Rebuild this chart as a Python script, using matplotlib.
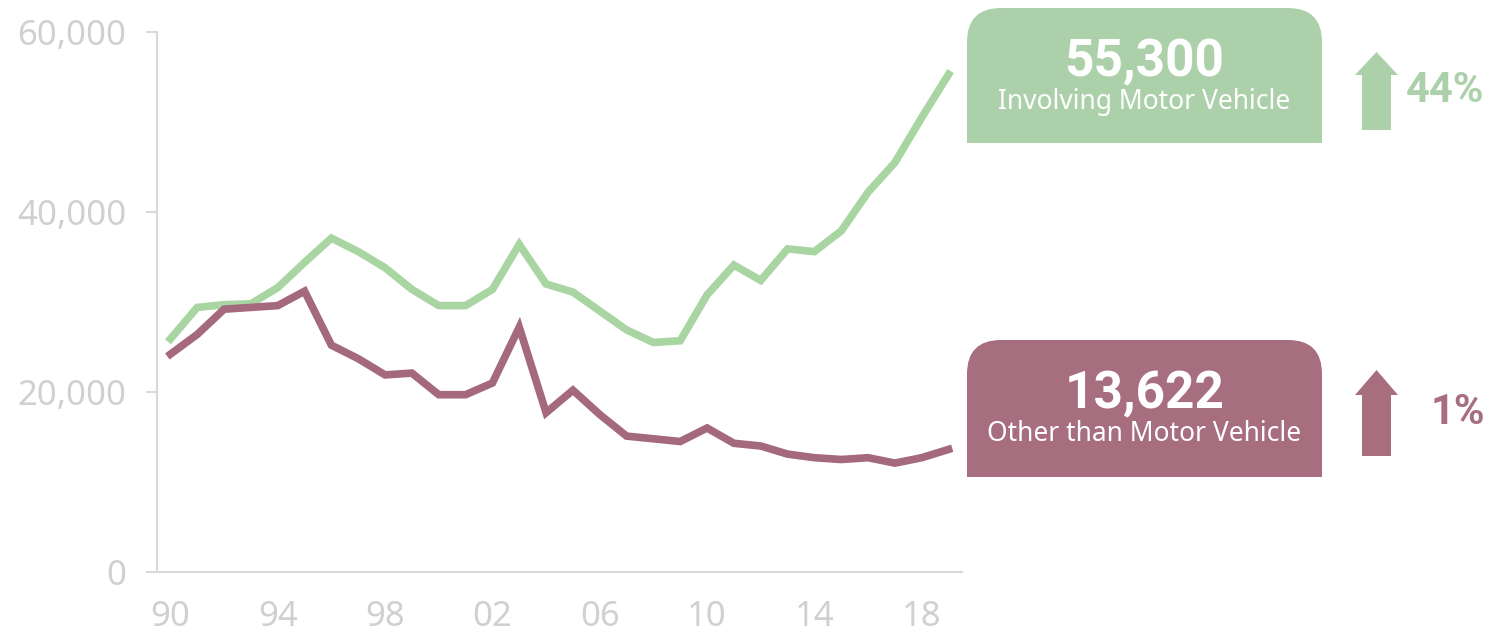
import matplotlib
matplotlib.use("Agg")
import matplotlib.pyplot as plt
from matplotlib.patches import FancyBboxPatch, Rectangle, Polygon
from matplotlib.ticker import FuncFormatter

# Data
years = list(range(1990, 2020))
motor_vehicle = [25900, 29400, 29700, 29800, 31600, 34400, 37100, 35600, 33800, 31400,
                 29600, 29600, 31400, 36400, 32000, 31100, 29000, 26900, 25500, 25700,
                 30800, 34100, 32400, 35900, 35600, 37900, 42200, 45500, 50500, 55300]
other_vehicle = [24200, 26400, 29200, 29400, 29600, 31200, 25200, 23700, 21900, 22100,
                 19700, 19700, 21000, 27200, 17700, 20200, 17500, 15100, 14800, 14500,
                 16000, 14300, 14000, 13100, 12700, 12500, 12700, 12100, 12700, 13622]
x_ticks = [1990, 1994, 1998, 2002, 2006, 2010, 2014, 2018]
y_ticks = [0, 20000, 40000, 60000]

green_line = "#a8d5a2"
green_box = "#acd1aa"
red_line = "#a4697c"
red_box = "#a66e7f"
axis_gray = "#d9d9d9"
text_gray = "#d0d0d0"

plt.rcParams["font.family"] = ["Noto Sans", "DejaVu Sans"]
bold_family = ["Roboto", "DejaVu Sans"]

W, H = 1507, 636
fig = plt.figure(figsize=(W / 100, H / 100), dpi=100)
ax = fig.add_axes([157 / W, 1 - 572 / H, (962 - 157) / W, (572 - 32) / H])

ax.plot(years, motor_vehicle, color=green_line, lw=5.5, solid_joinstyle="miter")
ax.plot(years, other_vehicle, color=red_line, lw=5.5, solid_joinstyle="miter")

ax.set_xlim(1989.5, 2019.5)
ax.set_ylim(0, 60000)
ax.set_xticks(x_ticks)
ax.set_xticklabels([str(y)[2:] for y in x_ticks])
ax.set_yticks(y_ticks)
ax.yaxis.set_major_formatter(FuncFormatter(lambda v, p: f"{int(v):,}"))

for s in ["top", "right"]:
    ax.spines[s].set_visible(False)
for s in ["left", "bottom"]:
    ax.spines[s].set_color(axis_gray)
    ax.spines[s].set_linewidth(1.5)
ax.tick_params(axis="y", length=8, width=1.5, color=axis_gray, labelcolor=text_gray,
               labelsize=25, pad=14)
ax.tick_params(axis="x", length=0, labelcolor=text_gray, labelsize=25, pad=20)

# overlay in pixel coordinates for the callouts
ov = fig.add_axes([0, 0, 1, 1])
ov.set_xlim(0, W)
ov.set_ylim(H, 0)
ov.axis("off")
ov.patch.set_alpha(0)


def callout(y0, y1, color, number, label, pct, pct_x, arrow_bottom, arrow_head, arrow_tip):
    x0, x1, r = 967, 1322, 34
    ov.add_patch(FancyBboxPatch((x0 + r, y0 + r), x1 - x0 - 2 * r, y1 - y0 - 2 * r,
                                boxstyle=f"round,pad={r}", fc=color, ec="none"))
    ov.add_patch(Rectangle((x0, (y0 + y1) / 2), x1 - x0, (y1 - y0) / 2, fc=color, ec="none"))
    cx = (x0 + x1) / 2
    ov.text(cx, y0 + 54, number, color="white", fontsize=37, fontweight="bold",
            family=bold_family, ha="center", va="center")
    ov.text(cx, y0 + 94, label, color="white", fontsize=19, ha="center", va="center")
    ov.add_patch(Polygon([(1362, arrow_bottom), (1362, arrow_head), (1355, arrow_head),
                          (1376.5, arrow_tip), (1398, arrow_head), (1391, arrow_head),
                          (1391, arrow_bottom)], closed=True, fc=color, ec="none"))
    ov.text(pct_x, (arrow_tip + arrow_bottom) / 2, pct, color=color, fontsize=30,
            fontweight="bold", family=bold_family, ha="left", va="center")


callout(8, 143, green_box, "55,300", "Involving Motor Vehicle", "44%", 1406, 130, 75, 52)
callout(340, 477, red_box, "13,622", "Other than Motor Vehicle", "1%", 1431, 456, 395, 370)

fig.savefig("out.png", dpi=100)
